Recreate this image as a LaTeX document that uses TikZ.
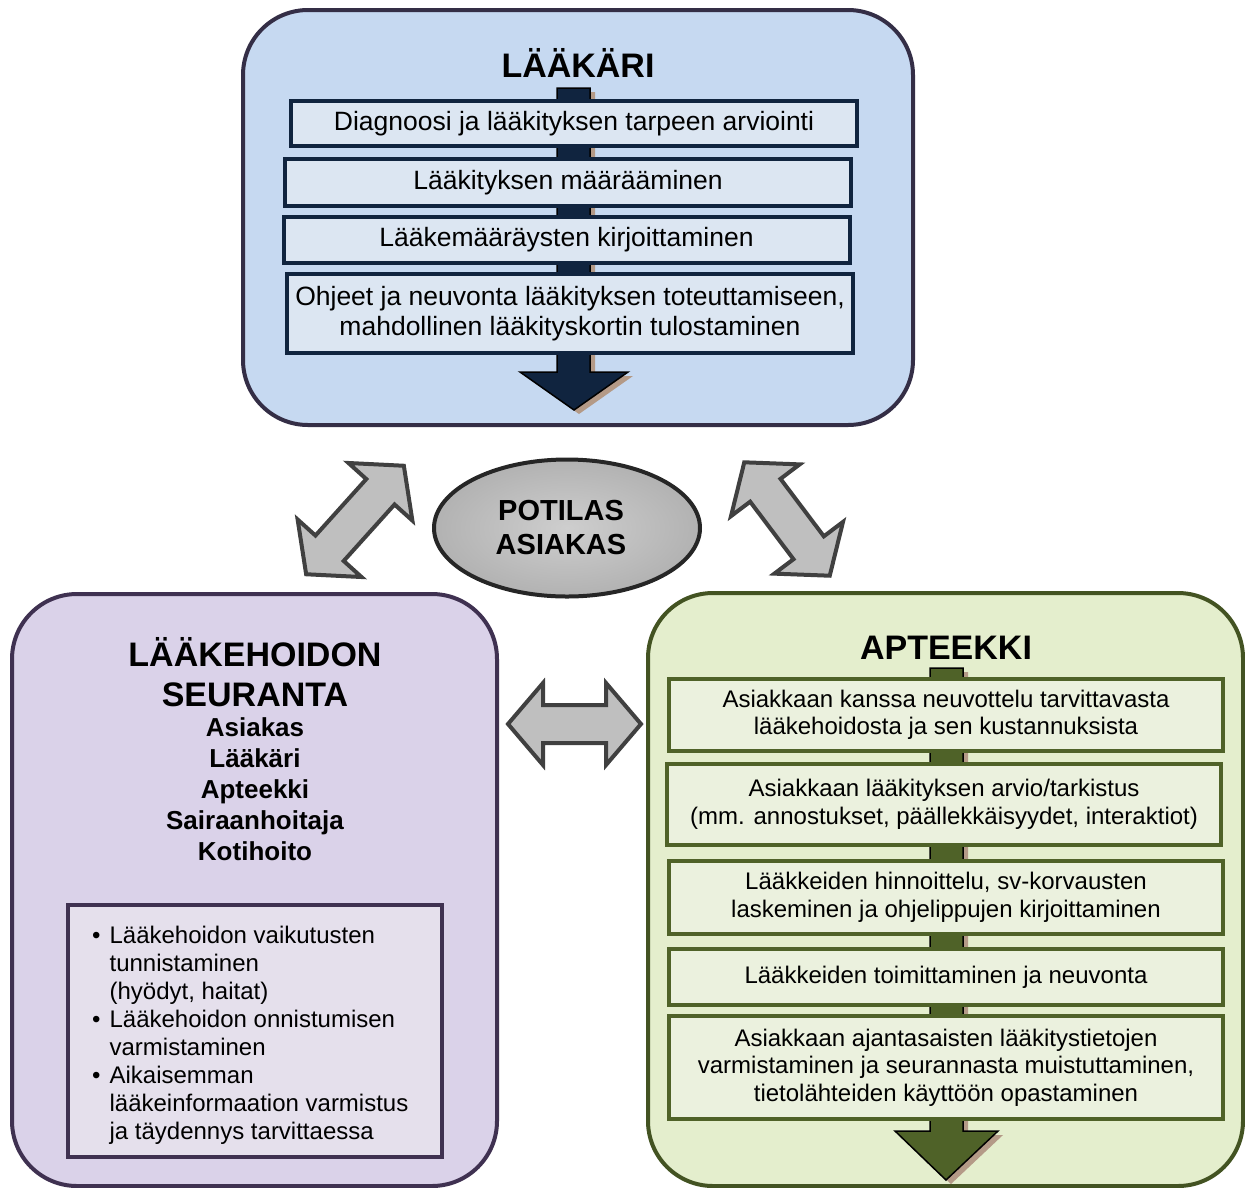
\documentclass[tikz,border=0pt]{standalone}
\usepackage{fontspec}
\setmainfont{Liberation Sans}
\usetikzlibrary{shapes.geometric}
\definecolor{topfill}{RGB}{198,217,241}
\definecolor{topborder}{RGB}{52,46,70}
\definecolor{topinner}{RGB}{220,230,242}
\definecolor{navy}{RGB}{16,36,63}
\definecolor{purfill}{RGB}{218,210,233}
\definecolor{purborder}{RGB}{63,49,81}
\definecolor{purinner}{RGB}{229,224,236}
\definecolor{grnfill}{RGB}{228,238,205}
\definecolor{grnborder}{RGB}{79,98,40}
\definecolor{grninner}{RGB}{235,241,222}
\definecolor{tanshadow}{RGB}{180,154,135}
\definecolor{arrgray}{RGB}{191,191,191}
\definecolor{arrline}{RGB}{64,64,64}
\definecolor{ellin}{RGB}{206,206,206}
\definecolor{ellout}{RGB}{178,178,178}
\newcommand\fsz[2]{\fontsize{#1}{#2}\selectfont}
\newcommand\dblarr[5]{%
\begin{scope}[shift={(#1,#2)},rotate=#3]
\draw[dblstyle] (-#4,0) -- (-#4+35,#5) -- (-#4+35,19) -- (#4-35,19) -- (#4-35,#5) -- (#4,0) -- (#4-35,-#5) -- (#4-35,-19) -- (-#4+35,-19) -- (-#4+35,-#5) -- cycle;
\end{scope}}
\begin{document}
\begin{tikzpicture}[x=1pt,y=-1pt,
  outerbox/.style={line width=4pt, rounded corners=65pt, minimum width=#1, inner sep=0pt},
  topstep/.style={draw=navy, fill=topinner, line width=4pt, minimum width=566pt, inner sep=0pt, align=center, font=\fsz{26.5}{29.5}},
  grnstep/.style={draw=grnborder, fill=grninner, line width=4.5pt, minimum width=554pt, inner sep=0pt, align=center, font=\fsz{24}{27.5}},
  titletext/.style={font=\fsz{34}{40}\bfseries, align=center},
  dblstyle/.style={fill=arrgray, draw=arrline, line width=4pt, line join=miter},
  flowshadow/.style={fill=tanshadow},
]
\useasboundingbox (0,0) rectangle (1245,1187);

% ---------- Top box: LÄÄKÄRI ----------
\node[outerbox=670pt, minimum height=415pt, draw=topborder, fill=topfill] (doc) at (578,217.5) {};
\node[titletext] (doct) at (578,63) {LÄÄKÄRI};
\fill[flowshadow] (562,92) -- (595,92) -- (595,376) -- (633,376) -- (579,414) -- (525,376) -- (562,376) -- cycle;
\draw[fill=navy, draw=black, line width=1.5pt] (557,88) -- (590,88) -- (590,372) -- (628,372) -- (574,410) -- (520,372) -- (557,372) -- cycle;
\node[topstep, minimum height=45pt] (d1) at (574,123.5) {Diagnoosi ja lääkityksen tarpeen arviointi};
\node[topstep, minimum height=47pt] (d2) at (568,182.5) {Lääkityksen määrääminen};
\node[topstep, minimum height=46pt] (d3) at (566.5,240) {Lääkemääräysten kirjoittaminen};
\node[topstep, minimum height=79pt] (d4) at (570,313.5) {Ohjeet ja neuvonta lääkityksen toteuttamiseen,\\ mahdollinen lääkityskortin tulostaminen};

% ---------- Centre ellipse ----------
\node[ellipse, draw=black!85, line width=4pt, inner color=ellin, outer color=ellout, minimum width=266pt, minimum height=137pt, inner sep=0pt] (pat) at (567,528) {};
\node[align=center, font=\fsz{29}{34}\bfseries] (patt) at (561,528) {POTILAS\\ASIAKAS};

% ---------- Double arrows ----------
\dblarr{355}{520}{48}{73}{43}
\dblarr{787}{519}{-53}{71}{43}
\dblarr{574.5}{724}{0}{66.5}{41}

% ---------- Bottom left: LÄÄKEHOIDON SEURANTA ----------
\node[outerbox=485pt, minimum height=592pt, draw=purborder, fill=purfill] (seu) at (254.5,890) {};
\node[titletext] (seut) at (255,672) {LÄÄKEHOIDON\\SEURANTA};
\node[align=center, font=\fsz{26}{31}\bfseries] (seun) at (255,789) {Asiakas\\Lääkäri\\Apteekki\\Sairaanhoitaja\\Kotihoito};
\node[draw=purborder, fill=purinner, line width=4pt, minimum width=374pt, minimum height=252pt, inner sep=0pt] (seub) at (255,1031) {};
\node[anchor=north west, inner sep=0pt, font=\fsz{24}{28}] (seul) at (92,924) {%
\begin{tabular}{@{}l@{\hspace{9pt}}l@{}}
• & Lääkehoidon vaikutusten\\
  & tunnistaminen\\
  & (hyödyt, haitat)\\
• & Lääkehoidon onnistumisen\\
  & varmistaminen\\
• & Aikaisemman\\
  & lääkeinformaation varmistus\\
  & ja täydennys tarvittaessa
\end{tabular}};

% ---------- Bottom right: APTEEKKI ----------
\node[outerbox=595pt, minimum height=593pt, draw=grnborder!85!black, fill=grnfill] (apt) at (945.5,889.5) {};
\node[titletext] (aptt) at (946,648) {APTEEKKI};
\fill[flowshadow] (935,672) -- (968,672) -- (968,1135) -- (1003,1135) -- (951,1184) -- (900,1135) -- (935,1135) -- cycle;
\draw[fill=grnborder, draw=black, line width=1.5pt] (930,668) -- (963,668) -- (963,1131) -- (998,1131) -- (946,1180) -- (895,1131) -- (930,1131) -- cycle;
\node[grnstep, minimum height=72pt] (a1) at (946,715) {Asiakkaan kanssa neuvottelu tarvittavasta\\lääkehoidosta ja sen kustannuksista};
\node[grnstep, minimum height=81pt] (a2) at (944,804.5) {Asiakkaan lääkityksen arvio/tarkistus\\(mm. annostukset, päällekkäisyydet, interaktiot)};
\node[grnstep, minimum height=73pt] (a3) at (946,897.5) {Lääkkeiden hinnoittelu, sv-korvausten\\laskeminen ja ohjelippujen kirjoittaminen};
\node[grnstep, minimum height=56pt] (a4) at (946,977) {Lääkkeiden toimittaminen ja neuvonta};
\node[grnstep, minimum height=103pt] (a5) at (946,1067.5) {Asiakkaan ajantasaisten lääkitystietojen\\varmistaminen ja seurannasta muistuttaminen,\\tietolähteiden käyttöön opastaminen};
\end{tikzpicture}
\end{document}
